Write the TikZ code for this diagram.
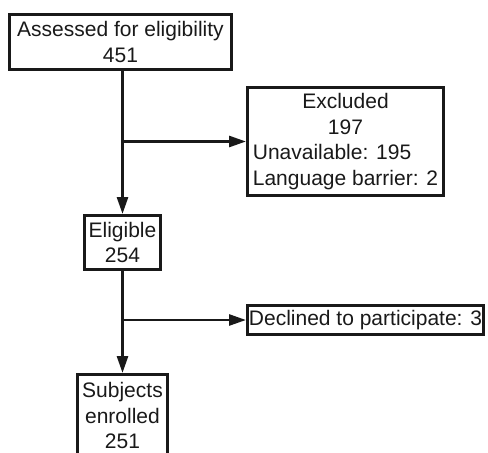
\documentclass[tikz,border=0pt]{standalone}
\usepackage{fontspec}
\usepackage{calc}
\setmainfont{Liberation Sans}
\usetikzlibrary{arrows.meta}
\tikzset{
  box/.style={draw=black!90, line width=2.7pt, rectangle, inner sep=0pt, align=center,
    font=\fontsize{21}{25.5}\selectfont, text=black!90},
  arr/.style={draw=black!90, line width=2.7pt, -{Triangle[length=17pt,width=11pt]}}
}
\begin{document}
\begin{tikzpicture}[x=1pt,y=-1pt]
\useasboundingbox (0,0) rectangle (488,453);
\clip (0,0) rectangle (488,453);
\node[box, minimum width=222.3pt, minimum height=55.3pt] (A) at (120.5,42) {Assessed for eligibility\\451};
\node[box, minimum width=196.3pt, minimum height=108.3pt] (X) at (345.5,141.5)
  {Excluded\\197\\\makebox[\widthof{Language barrier: 2}][l]{Unavailable: 195}\\Language barrier: 2};
\node[box, minimum width=76.3pt, minimum height=54.3pt] (E) at (122.5,242.5) {Eligible\\254};
\node[box, minimum width=236.3pt, minimum height=29.3pt] (D) at (365.5,320) {Declined to participate: 3};
\node[box, minimum width=90.3pt, minimum height=82.3pt] (S) at (122.5,415.5) {Subjects\\enrolled\\251};
\draw[arr] (A.south -| E.north) -- (E.north);
\draw[arr] (E.north |- X.west) -- (X.west);
\draw[arr] (E.south) -- (S.north);
\draw[arr] (E.south |- D.west) -- (D.west);
\end{tikzpicture}
\end{document}
